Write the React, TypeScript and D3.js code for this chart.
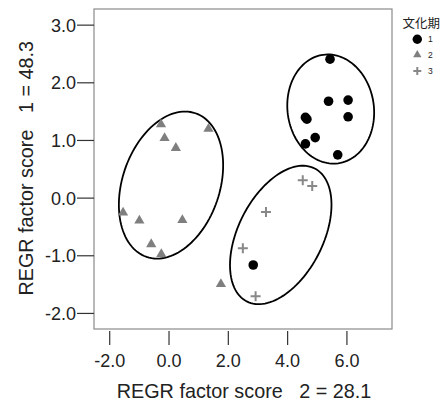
import React from "react";
import * as d3 from "d3";

// Group 1: black circles
const g1X = [5.43, 5.38, 6.04, 6.04, 4.6, 4.65, 4.93, 4.6, 5.69, 2.84];
const g1Y = [2.41, 1.68, 1.7, 1.41, 1.4, 1.37, 1.05, 0.94, 0.75, -1.16];
// Group 2: gray triangles
const g2X = [-0.27, 1.33, -0.15, 0.23, -1.55, -1.0, 0.45, -0.6, -0.26, 1.75];
const g2Y = [1.28, 1.2, 1.04, 0.87, -0.25, -0.39, -0.38, -0.8, -0.97, -1.49];
// Group 3: gray crosses
const g3X = [4.51, 4.83, 3.27, 2.49, 2.92];
const g3Y = [0.31, 0.21, -0.24, -0.87, -1.7];

// Ellipses in data units: centre, major half-axis vector, minor half-axis vector
const ellipseCenters = [[5.453, 1.545], [0.067, 0.226], [3.768, -0.639]];
const ellipseMajor = [[-0.253, 0.941], [0.823, 1.246], [1.146, 1.153]];
const ellipseMinor = [[1.443, 0.103], [1.554, -0.272], [1.271, -0.335]];

const xTicks = [-2, 0, 2, 4, 6];
const yTicks = [3, 2, 1, 0, -1, -2];
const legendTitle = "文化期";
const legendLabels = ["1", "2", "3"];
const xTitle = "REGR factor score   2 = 28.1";
const yTitle = "REGR factor score   1 = 48.3";

const W = 441;
const H = 405;
const frame = { left: 94, right: 392, top: 9, bottom: 329 };
const FONT = "Liberation Sans, Arial, sans-serif";

export default function App() {
  const x = d3.scaleLinear().domain([-2.53, 7.52]).range([frame.left, frame.right]);
  const y = d3.scaleLinear().domain([-2.27, 3.28]).range([frame.bottom, frame.top]);

  const tri = d3.symbol().type(d3.symbolTriangle).size(45)()!;
  const triLegend = d3.symbol().type(d3.symbolTriangle).size(30)()!;
  const crossPath = (h: number) => `M${-h},0H${h}M0,${-h}V${h}`;

  const line = d3
    .line<[number, number]>()
    .x((d) => d[0])
    .y((d) => d[1])
    .curve(d3.curveLinearClosed);

  const ellipsePaths = ellipseCenters.map((c, i) => {
    const A = ellipseMajor[i];
    const B = ellipseMinor[i];
    const pts: [number, number][] = d3.range(0, 120).map((k) => {
      const t = (k / 120) * Math.PI * 2;
      const dx = c[0] + Math.cos(t) * A[0] + Math.sin(t) * B[0];
      const dy = c[1] + Math.cos(t) * A[1] + Math.sin(t) * B[1];
      return [x(dx), y(dy)];
    });
    return line(pts)!;
  });

  return (
    <svg
      width={W}
      height={H}
      style={{ position: "absolute", left: 0, top: 0, background: "#fff" }}
      fontFamily={FONT}
    >
      <rect x={0} y={0} width={W} height={H} fill="#fff" />
      {/* frame */}
      <rect
        x={frame.left}
        y={frame.top}
        width={frame.right - frame.left}
        height={frame.bottom - frame.top}
        fill="none"
        stroke="#8a8a8a"
        strokeWidth={1.2}
      />
      {/* y ticks */}
      {yTicks.map((t) => (
        <g key={"y" + t}>
          <line x1={77} x2={frame.left} y1={y(t)} y2={y(t)} stroke="#333" strokeWidth={1.2} />
          <text x={76} y={y(t) + 6.4} textAnchor="end" fontSize={18} fill="#222">
            {t.toFixed(1)}
          </text>
        </g>
      ))}
      {/* x ticks */}
      {xTicks.map((t) => (
        <g key={"x" + t}>
          <line x1={x(t)} x2={x(t)} y1={331} y2={345} stroke="#333" strokeWidth={1.2} />
          <text x={x(t)} y={366.5} textAnchor="middle" fontSize={18} fill="#222">
            {t.toFixed(1)}
          </text>
        </g>
      ))}
      {/* axis titles */}
      <text
        x={244}
        y={398}
        textAnchor="middle"
        fontSize={19.8}
        fill="#222"
        style={{ whiteSpace: "pre" }}
      >
        {xTitle}
      </text>
      <text
        transform="translate(33,168.3) rotate(-90)"
        textAnchor="middle"
        fontSize={19.8}
        fill="#222"
        style={{ whiteSpace: "pre" }}
      >
        {yTitle}
      </text>
      {/* ellipses */}
      {ellipsePaths.map((d, i) => (
        <path key={"e" + i} d={d} fill="none" stroke="#000" strokeWidth={1.8} />
      ))}
      {/* group 2 triangles */}
      {g2X.map((v, i) => (
        <path key={"t" + i} d={tri} transform={`translate(${x(v)},${y(g2Y[i])})`} fill="#7f7f7f" />
      ))}
      {/* group 3 crosses */}
      {g3X.map((v, i) => (
        <path
          key={"c" + i}
          d={crossPath(5)}
          transform={`translate(${x(v)},${y(g3Y[i])})`}
          stroke="#888"
          strokeWidth={2}
          fill="none"
        />
      ))}
      {/* group 1 circles */}
      {g1X.map((v, i) => (
        <circle key={"p" + i} cx={x(v)} cy={y(g1Y[i])} r={4.8} fill="#000" />
      ))}
      {/* legend */}
      <text
        x={402.5}
        y={28}
        fontSize={12.5}
        fill="#222"
        fontFamily="Noto Sans CJK JP, Noto Sans CJK SC, sans-serif"
      >
        {legendTitle}
      </text>
      <circle cx={417.3} cy={39.3} r={4.7} fill="#000" />
      <path d={triLegend} transform="translate(417.3,54.8)" fill="#7f7f7f" />
      <path d={crossPath(4)} transform="translate(417.3,71)" stroke="#888" strokeWidth={2} fill="none" />
      {legendLabels.map((l, i) => (
        <text key={"l" + l} x={428} y={[39.3, 54.8, 71][i] + 3} fontSize={8.5} fill="#222">
          {l}
        </text>
      ))}
    </svg>
  );
}
